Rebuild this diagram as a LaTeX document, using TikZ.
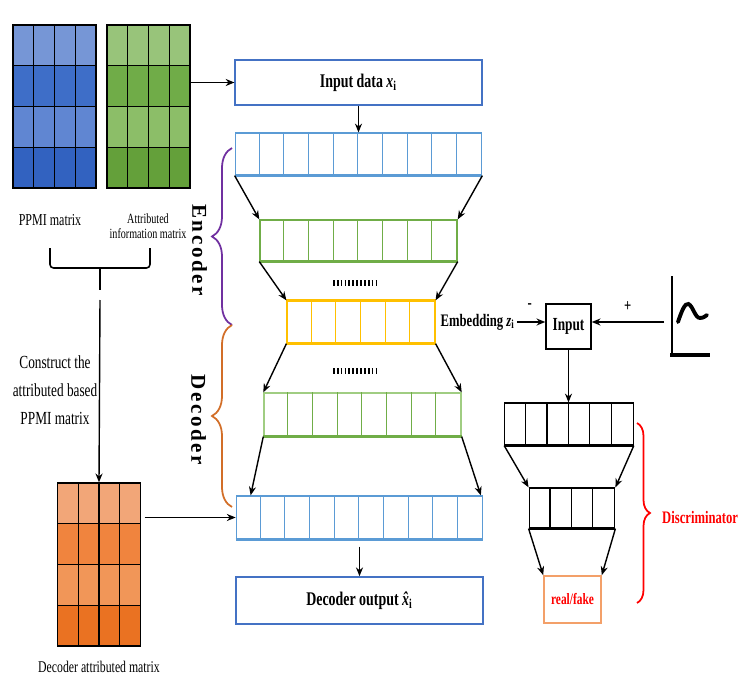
\documentclass[tikz,border=0pt]{standalone}
\usepackage{fontspec}
\setmainfont[FakeStretch=0.72]{Liberation Serif}
\newfontfamily\rotfont[LetterSpace=12]{Liberation Serif}
\usetikzlibrary{shapes, arrows.meta, positioning, decorations.pathreplacing}

\definecolor{ppmiA}{RGB}{118,150,214}
\definecolor{ppmiB}{RGB}{62,110,200}
\definecolor{ppmiC}{RGB}{96,134,210}
\definecolor{ppmiD}{RGB}{50,98,192}
\definecolor{attrA}{RGB}{152,196,122}
\definecolor{attrB}{RGB}{112,172,72}
\definecolor{attrC}{RGB}{140,190,104}
\definecolor{attrD}{RGB}{100,160,58}
\definecolor{decA}{RGB}{242,166,120}
\definecolor{decB}{RGB}{240,132,62}
\definecolor{decC}{RGB}{241,150,88}
\definecolor{decD}{RGB}{234,114,34}
\definecolor{lblue}{RGB}{91,155,213}
\definecolor{dblue}{RGB}{68,114,196}
\definecolor{lgreen}{RGB}{112,173,71}
\definecolor{pgreen}{RGB}{160,205,130}
\definecolor{lyellow}{RGB}{255,192,0}
\definecolor{bpurple}{RGB}{112,48,160}
\definecolor{borange}{RGB}{210,110,40}
\definecolor{rforange}{RGB}{243,160,105}

\begin{document}
\begin{tikzpicture}[
  mat/.style={rectangle, draw, line width=0.8pt, minimum width=1.66cm, minimum height=3.26cm, inner sep=0pt},
  layer/.style={rectangle, draw, line width=0.7pt, minimum height=0.84cm, inner sep=0pt},
  databox/.style={rectangle, draw=dblue, line width=0.9pt, minimum width=4.93cm, font=\bfseries\fontsize{11}{13}\selectfont},
  lbl/.style={align=center, font=\fontsize{9.5}{10}\selectfont},
  rotlbl/.style={rotate=-90, font=\rotfont\bfseries\fontsize{12}{14}\selectfont},
  arr/.style={-{Stealth[length=5pt, width=4pt]}, line width=0.8pt},
  brc/.style={decorate, decoration={brace, amplitude=#1}, line width=1pt},
  brc/.default=0.4cm,
  dots/.style={line width=3.4pt, dash pattern=on 1pt off 1.2pt}
]
\useasboundingbox (0,0) rectangle (15,-14);
% Matrices
\foreach \c [count=\r from 0] in {ppmiA,ppmiB,ppmiC,ppmiD}
  \fill[\c] (0.26,-0.50-0.815*\r) rectangle ++(1.66,-0.815);
\foreach \c [count=\r from 0] in {attrA,attrB,attrC,attrD}
  \fill[\c] (2.14,-0.50-0.815*\r) rectangle ++(1.66,-0.815);
\foreach \c [count=\r from 0] in {decA,decB,decC,decD}
  \fill[\c] (1.15,-9.66-0.815*\r) rectangle ++(1.66,-0.815);
\draw[line width=0.8pt, shift={(0.26,-3.76)}] (0,0) grid[xstep=0.415, ystep=0.815] (1.66,3.26);
\draw[line width=0.8pt, shift={(2.14,-3.76)}] (0,0) grid[xstep=0.415, ystep=0.815] (1.66,3.26);
\draw[line width=0.8pt, shift={(1.15,-12.92)}] (0,0) grid[xstep=0.415, ystep=0.815] (1.66,3.26);
\node[mat] (ppmi) at (1.09,-2.13) {};
\node[mat] (attr) at (2.97,-2.13) {};
\node[mat] (dattr) at (1.98,-11.29) {};
\node[lbl] (ppmilbl) at (1.0,-4.40) {PPMI matrix};
\node[lbl, font=\fontsize{8}{8.5}\selectfont] (attrlbl) at (2.96,-4.52) {Attributed\\information matrix};
\node[lbl, font=\fontsize{10.5}{16}\selectfont] (constlbl) at (1.1,-7.8) {Construct the\\attributed based\\PPMI matrix};
\node[lbl, font=\fontsize{9.3}{10}\selectfont] (dattrlbl) at (1.98,-13.34) {Decoder attributed matrix};
% Bracket under the two matrices
\draw[line width=0.9pt, rounded corners=2pt] (1.0,-4.96) |- (3.0,-5.36) -- (3.0,-4.96);
\draw[line width=0.9pt] (2.0,-5.36) -- (2.0,-5.80);
\coordinate (join) at (2.0,-6.0);
% Autoencoder
\node[databox, minimum height=0.9cm] (input) at (7.17,-1.65) {Input data {\itshape x}\textsubscript{i}};
\node[layer, draw=lblue, minimum width=4.93cm] (enc1) at (7.17,-3.08) {};
\node[layer, draw=lgreen, minimum width=3.944cm, minimum height=0.82cm] (enc2) at (7.17,-4.81) {};
\node[layer, draw=lyellow, minimum width=2.958cm] (emb) at (7.22,-6.44) {};
\node[layer, draw=pgreen, minimum width=3.944cm, minimum height=0.86cm] (dec1) at (7.25,-8.29) {};
\node[layer, draw=lblue, minimum width=4.93cm, minimum height=0.86cm] (dec2) at (7.19,-10.35) {};
\node[databox, minimum height=0.94cm] (output) at (7.19,-12.01) {Decoder output {\itshape\^{x}}\textsubscript{i}};
\foreach \n/\c/\k in {enc1/lblue/9, enc2/lgreen/7, emb/lyellow/5, dec1/lgreen/7, dec2/lblue/9} {
  \foreach \i in {1,...,\k}
    \draw[\c, line width=0.6pt] ([xshift=\i*0.493 cm]\n.north west) -- ([xshift=\i*0.493 cm]\n.south west);
  \draw[\c, line width=1.8pt] (\n.south west) -- (\n.south east);
}
\draw[lyellow, line width=1.5pt] (emb.north west) -- (emb.north east);
\draw[dots] (6.66,-5.66) -- (7.58,-5.66);
\draw[dots] (6.66,-7.42) -- (7.58,-7.42);
\node[right=0.06cm of emb, inner sep=1pt, font=\bfseries\fontsize{10}{12}\selectfont] (embtxt) {Embedding {\itshape z}\textsubscript{i}};
% Braces
\draw[brc, bpurple] (4.64,-6.50) -- (4.64,-2.96);
\draw[brc, borange] (4.64,-10.14) -- (4.64,-6.50);
\node[rotlbl] (enclbl) at (3.99,-5.0) {Encoder};
\node[rotlbl] (declbl) at (3.97,-8.4) {Decoder};
% Discriminator
\node[rectangle, draw, line width=0.8pt, minimum size=0.9cm, font=\bfseries\fontsize{10.5}{12}\selectfont] (dinput) at (11.37,-6.53) {Input};
\node[layer, draw, minimum width=2.568cm] (disc1) at (11.38,-8.48) {};
\node[layer, draw, minimum width=1.712cm, minimum height=0.80cm] (disc2) at (11.44,-10.16) {};
\foreach \n/\k in {disc1/5, disc2/3} {
  \foreach \i in {1,...,\k}
    \draw[line width=0.6pt] ([xshift=\i*0.428 cm]\n.north west) -- ([xshift=\i*0.428 cm]\n.south west);
  \draw[line width=1.8pt] (\n.south west) -- (\n.south east);
}
\node[rectangle, draw=rforange, line width=0.9pt, minimum width=1.14cm, minimum height=0.94cm, text=red, font=\bfseries\fontsize{9}{10}\selectfont] (realfake) at (11.45,-11.99) {real/fake};
\draw[brc=0.26cm, red] (12.74,-8.46) -- (12.74,-12.06);
\node[anchor=west, text=red, font=\bfseries\fontsize{10}{12}\selectfont] (disclbl) at (13.12,-10.34) {Discriminator};
% Prior distribution
\coordinate (noise) at (13.28,-6.44);
\draw[line width=1.7pt] (13.44,-5.52) -- (13.44,-7.12);
\draw[line width=2.8pt] (13.40,-7.10) -- (14.20,-7.10);
\draw[line width=2.2pt, line cap=round] (13.56,-6.44) .. controls (13.64,-6.20) and (13.70,-6.06) .. (13.77,-6.08) .. controls (13.86,-6.12) and (13.90,-6.36) .. (14.00,-6.36) .. controls (14.07,-6.36) and (14.11,-6.32) .. (14.14,-6.30);
% Flows
\draw[arr] (attr.east |- input.west) -- (input.west);
\draw[arr] (input.south) -- (enc1.north);
\draw[arr] (enc1.south west) -- (enc2.north west);
\draw[arr] (enc1.south east) -- (enc2.north east);
\draw[arr] (enc2.south west) -- (emb.north west);
\draw[arr] (enc2.south east) -- (emb.north east);
\draw[arr] (emb.south west) -- (dec1.north west);
\draw[arr] (emb.south east) -- (dec1.north east);
\draw[arr] (dec1.south west) -- ([xshift=0.3cm]dec2.north west);
\draw[arr] (dec1.south east) -- ([xshift=-0.05cm]dec2.north east);
\draw[arr, shorten <=4pt] (dec2.south) -- (output.north);
\draw[arr] (join) -- (dattr.north);
\draw[arr, shorten <=2pt] (dattr.east |- dec2.west) -- (dec2.west);
\draw[arr] (embtxt.east) -- (embtxt.east -| dinput.west) node[pos=0.45, above=4pt, font=\bfseries] {-};
\draw[arr] (noise) -- (noise -| dinput.east) node[midway, above=2pt, font=\bfseries] {+};
\draw[arr] (dinput.south) -- (dinput.south |- disc1.north);
\draw[arr] (disc1.south west) -- (disc2.north west);
\draw[arr] (disc1.south east) -- (disc2.north east);
\draw[arr] (disc2.south west) -- (realfake.north west);
\draw[arr] (disc2.south east) -- (realfake.north east);
\end{tikzpicture}
\end{document}
